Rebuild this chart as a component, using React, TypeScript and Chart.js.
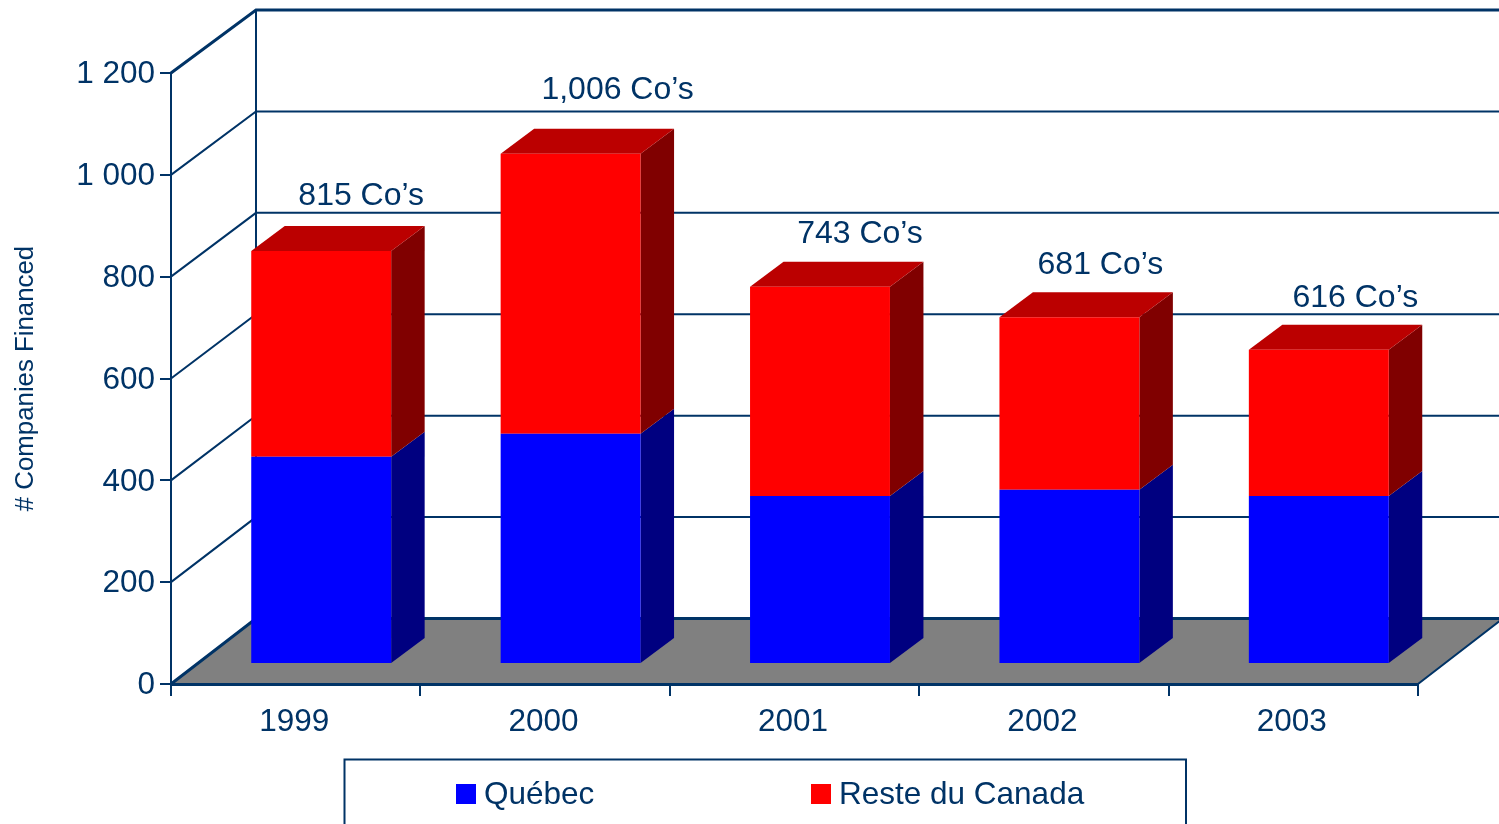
import React, { useEffect, useRef } from "react";
import { Chart, registerables } from "chart.js";

Chart.register(...registerables);

const years = ["1999", "2000", "2001", "2002", "2003"];
const quebec = [407, 452, 330, 342, 330];
const resteDuCanada = [404, 550, 411, 339, 287];
const totalLabels = ["815 Co’s", "1,006 Co’s", "743 Co’s", "681 Co’s", "616 Co’s"];
const labelNudges = [
  [40, -55],
  [47, -64],
  [40, -53],
  [31, -52],
  [36.5, -52],
];

const INK = "#003366";
const FONT = "'Liberation Sans', Arial, sans-serif";
const WALL_DX = 85;
const BAR_FRONT_DX = 25.5;
const BAR_FRONT_DY = -20;
const BAR_DEPTH_DX = 33.5;
const BAR_DEPTH_DY = -25;

const faces = [
  { side: "#000080", top: "#000080" },
  { side: "#800000", top: "#BB0000" },
];

const wallDy = (v: number) => -65.5 + (2.5 * v) / 1200;

const threeD = {
  id: "threeD",
  beforeDraw(chart: any) {
    const { ctx, width, scales } = chart;
    const y = scales.y;
    const x0 = chart.chartArea.left;
    const x1 = chart.chartArea.right;
    const y0 = y.getPixelForValue(0);
    const back = x0 + WALL_DX;
    const backY0 = y0 + wallDy(0);

    ctx.save();
    // floor
    ctx.fillStyle = "#808080";
    ctx.beginPath();
    ctx.moveTo(x0, y0);
    ctx.lineTo(back, backY0);
    ctx.lineTo(x1 + WALL_DX, backY0);
    ctx.lineTo(x1, y0);
    ctx.closePath();
    ctx.fill();

    ctx.strokeStyle = INK;
    ctx.lineWidth = 2;
    // wall grid
    y.ticks.forEach((t: any) => {
      const py = y.getPixelForValue(t.value);
      const by = py + wallDy(t.value);
      ctx.lineWidth = t.value === 0 || t.value === 1200 ? 3 : 2;
      ctx.beginPath();
      ctx.moveTo(x0, py);
      ctx.lineTo(back, by);
      ctx.lineTo(width, by);
      ctx.stroke();
    });
    ctx.lineWidth = 2;
    ctx.beginPath();
    ctx.moveTo(back, y.getPixelForValue(1200) + wallDy(1200));
    ctx.lineTo(back, backY0);
    ctx.moveTo(x1, y0);
    ctx.lineTo(x1 + WALL_DX, backY0);
    ctx.stroke();
    ctx.restore();
  },
  beforeDatasetsDraw(chart: any) {
    const { ctx } = chart;
    const lastDs = chart.data.datasets.length - 1;
    ctx.save();
    chart.data.labels.forEach((_: string, i: number) => {
      chart.data.datasets.forEach((_d: any, d: number) => {
        const bar = chart.getDatasetMeta(d).data[i];
        const { x, y, base, width } = bar.getProps(["x", "y", "base", "width"], true);
        const l = x - width / 2 + BAR_FRONT_DX;
        const r = x + width / 2 + BAR_FRONT_DX;
        const t = y + BAR_FRONT_DY;
        const b = base + BAR_FRONT_DY;
        ctx.fillStyle = faces[d].side;
        ctx.beginPath();
        ctx.moveTo(r, t);
        ctx.lineTo(r + BAR_DEPTH_DX, t + BAR_DEPTH_DY);
        ctx.lineTo(r + BAR_DEPTH_DX, b + BAR_DEPTH_DY);
        ctx.lineTo(r, b);
        ctx.closePath();
        ctx.fill();
        if (d === lastDs) {
          ctx.fillStyle = faces[d].top;
          ctx.beginPath();
          ctx.moveTo(l, t);
          ctx.lineTo(l + BAR_DEPTH_DX, t + BAR_DEPTH_DY);
          ctx.lineTo(r + BAR_DEPTH_DX, t + BAR_DEPTH_DY);
          ctx.lineTo(r, t);
          ctx.closePath();
          ctx.fill();
        }
      });
    });
    ctx.restore();
    ctx.save();
    ctx.translate(BAR_FRONT_DX, BAR_FRONT_DY);
  },
  afterDatasetsDraw(chart: any) {
    const { ctx } = chart;
    ctx.restore();
    const lastDs = chart.data.datasets.length - 1;
    ctx.save();
    ctx.fillStyle = INK;
    ctx.font = `32px ${FONT}`;
    ctx.textAlign = "center";
    ctx.textBaseline = "middle";
    totalLabels.forEach((text, i) => {
      const bar = chart.getDatasetMeta(lastDs).data[i];
      const { x, y } = bar.getProps(["x", "y"], true);
      ctx.fillText(
        text,
        x + BAR_FRONT_DX + labelNudges[i][0],
        y + BAR_FRONT_DY + labelNudges[i][1]
      );
    });
    ctx.restore();
  },
  afterDraw(chart: any) {
    const { ctx, height } = chart;
    ctx.save();
    // legend box, cut by the bottom of the picture
    ctx.strokeStyle = INK;
    ctx.lineWidth = 2;
    ctx.beginPath();
    ctx.moveTo(344.5, height + 2);
    ctx.lineTo(344.5, 759.5);
    ctx.lineTo(1186, 759.5);
    ctx.lineTo(1186, height + 2);
    ctx.stroke();
    ctx.font = `31.5px ${FONT}`;
    ctx.textBaseline = "middle";
    ctx.textAlign = "left";
    const starts = [456, 811];
    chart.data.datasets.forEach((ds: any, i: number) => {
      ctx.fillStyle = ds.backgroundColor;
      ctx.fillRect(starts[i], 784, 20, 20);
      ctx.fillStyle = INK;
      ctx.fillText(ds.label, starts[i] + 28, 795);
    });
    ctx.restore();
  },
};

export default function App() {
  const ref = useRef<HTMLCanvasElement>(null);
  useEffect(() => {
    const chart = new Chart(ref.current!, {
      type: "bar",
      data: {
        labels: years,
        datasets: [
          { label: "Québec", data: quebec, backgroundColor: "#0000FF", clip: false as any },
          { label: "Reste du Canada", data: resteDuCanada, backgroundColor: "#FF0000", clip: false as any },
        ],
      },
      plugins: [threeD],
      options: {
        responsive: false,
        animation: false,
        devicePixelRatio: 1,
        categoryPercentage: 1,
        barPercentage: 0.561,
        layout: { padding: { top: 73, right: 81, left: 0, bottom: 0 } },
        plugins: { legend: { display: false }, tooltip: { enabled: false } },
        scales: {
          x: {
            stacked: true,
            afterFit: (s: any) => {
              s.height = 140;
            },
            border: { display: true, color: INK, width: 3 },
            grid: { drawOnChartArea: false, drawTicks: true, tickLength: 12, color: INK, lineWidth: 2 },
            ticks: { color: INK, font: { family: FONT, size: 31.5 }, padding: 7, maxRotation: 0, labelOffset: -1.5 },
          },
          y: {
            stacked: true,
            min: 0,
            max: 1200,
            afterFit: (s: any) => {
              s.width = 171;
            },
            border: { display: true, color: INK, width: 2 },
            grid: { drawOnChartArea: false, drawTicks: true, tickLength: 11, color: INK, lineWidth: 2 },
            ticks: {
              stepSize: 200,
              color: INK,
              font: { family: FONT, size: 31.5 },
              padding: 5,
              labelOffset: 1.5,
              callback: (v: any) => (v >= 1000 ? `${Math.floor(v / 1000)} ${String(v % 1000).padStart(3, "0")}` : String(v)),
            },
            title: {
              display: true,
              text: "# Companies Financed",
              color: INK,
              font: { family: FONT, size: 25.8 },
              padding: { top: 10, bottom: 0 },
            },
          },
        },
      },
    });
    return () => chart.destroy();
  }, []);
  return (
    <div style={{ position: "absolute", left: 0, top: 0, width: 1499, height: 824, overflow: "hidden", background: "#fff" }}>
      <canvas ref={ref} width={1499} height={824} style={{ display: "block" }} />
    </div>
  );
}
